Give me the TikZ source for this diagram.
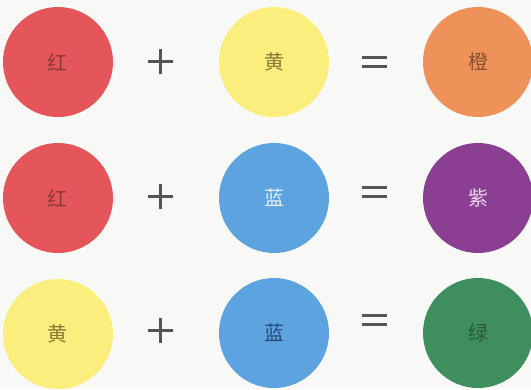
\documentclass[tikz,border=0pt]{standalone}
\usepackage{fontspec}
\newfontfamily\cjk{Noto Sans CJK SC}
\definecolor{bgc}{HTML}{F8F8F6}
\definecolor{cred}{HTML}{E5565A}
\definecolor{cyellow}{HTML}{FBEE7C}
\definecolor{corange}{HTML}{EE925A}
\definecolor{cblue}{HTML}{5CA3DF}
\definecolor{cpurple}{HTML}{8A3F93}
\definecolor{cgreen}{HTML}{3F8F5E}
\definecolor{tred}{HTML}{8A3A3A}
\definecolor{tyellow}{HTML}{8A7A3A}
\definecolor{torange}{HTML}{8A5030}
\definecolor{tbluew}{HTML}{E4EEF8}
\definecolor{tpurple}{HTML}{EAD2EC}
\definecolor{tblued}{HTML}{2A4A7A}
\definecolor{tgreen}{HTML}{2A5A3A}
\definecolor{opc}{HTML}{555555}
\tikzset{
  dot/.style={circle, minimum size=110pt, inner sep=0pt, font=\cjk\fontsize{20}{20}\selectfont},
  opline/.style={draw=opc, line width=3pt},
}
\begin{document}
\begin{tikzpicture}[x=1pt,y=-1pt]
\fill[bgc] (0,0) rectangle (531,389);
\useasboundingbox (0,0) rectangle (531,389);
% row 1
\node[dot, fill=cred, text=tred] (r1a) at (58,62) {红};
\node[dot, fill=cyellow, text=tyellow] (r1b) at (274,62) {黄};
\node[dot, fill=corange, text=torange] (r1c) at (478,62) {橙};
% row 2
\node[dot, fill=cred, text=tred] (r2a) at (58,198) {红};
\node[dot, fill=cblue, text=tbluew] (r2b) at (274,198) {蓝};
\node[dot, fill=cpurple, text=tpurple] (r2c) at (478,198) {紫};
% row 3
\node[dot, fill=cyellow, text=tyellow] (r3a) at (58,334) {黄};
\node[dot, fill=cblue, text=tblued] (r3b) at (274,333) {蓝};
\node[dot, fill=cgreen, text=tgreen] (r3c) at (478,333) {绿};
% operators
\coordinate (p1) at (160,61);
\coordinate (p2) at (160,196);
\coordinate (p3) at (160,330);
\coordinate (e1) at (374,62);
\coordinate (e2) at (374,192);
\coordinate (e3) at (374,320);
\foreach \p in {p1,p2,p3}{
  \draw[opline] ([xshift=-12.5pt]\p) -- ([xshift=12.5pt]\p);
  \draw[opline] ([yshift=-12.5pt]\p) -- ([yshift=12.5pt]\p);
}
\foreach \e in {e1,e2,e3}{
  \draw[opline] ([xshift=-12.5pt,yshift=-4.5pt]\e) -- ([xshift=12.5pt,yshift=-4.5pt]\e);
  \draw[opline] ([xshift=-12.5pt,yshift=4.5pt]\e) -- ([xshift=12.5pt,yshift=4.5pt]\e);
}
\end{tikzpicture}
\end{document}
